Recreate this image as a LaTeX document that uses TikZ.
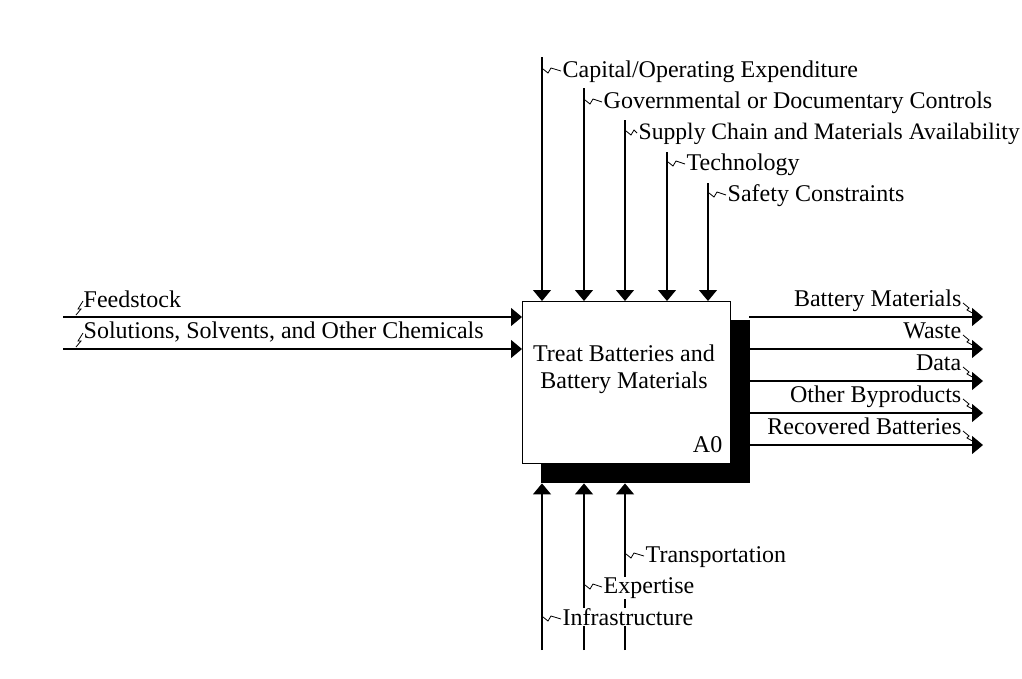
\documentclass[tikz,border=0pt]{standalone}
\usepackage{fontspec}
\setmainfont{Liberation Serif}
\usetikzlibrary{arrows.meta}
\begin{document}
\begin{tikzpicture}[x=1pt,y=-1pt,font=\fontsize{24}{27}\selectfont,
  flow/.style={line width=1.2pt,-{Triangle[length=11pt,width=18pt]}},
  lbl/.style={inner sep=0.5pt,fill=white,anchor=base west},
  rlbl/.style={inner sep=0.5pt,fill=white,anchor=base east},
  squig/.style={line width=0.8pt}]
\useasboundingbox[fill=white] (0,0) rectangle (1022,678);
% shadow and box
\node[fill=black,minimum width=209pt,minimum height=163pt,inner sep=0pt,anchor=north west] (shadow) at (541,320) {};
\node[draw,line width=1.2pt,fill=white,minimum width=208pt,minimum height=162pt,inner sep=0pt,anchor=north west] (box) at (522,301) {};
\node[align=center,inner sep=0pt] (title) at (624,369) {Treat Batteries and\\Battery Materials};
\node[rlbl] (a0) at (723,452) {A0};
% controls (top)
\coordinate (t1) at (542,57);
\coordinate (t2) at (584,88);
\coordinate (t3) at (625,120);
\coordinate (t4) at (667,152);
\coordinate (t5) at (708,183);
\foreach \c in {t1,t2,t3,t4,t5}{\draw[flow] (\c) -- (\c |- box.north);}
\node[lbl] (c1) at (562,77) {Capital/Operating Expenditure};
\node[lbl] (c2) at (603,108) {Governmental or Documentary Controls};
\node[lbl,font=\fontsize{23.6}{27}\selectfont] (c3) at (638,139) {Supply Chain and Materials Availability};
\node[lbl] (c4) at (686,170) {Technology};
\node[lbl] (c5) at (727,201) {Safety Constraints};
\foreach \x/\y/\e in {542/77/562,584/108/603,625/139/638,667/170/686,708/201/727}{
  \draw[squig] (\x+1,\y-8) -- ++(5,4) -- ++(3,-5) -- (\e-1,\y-6);}
% inputs (left)
\coordinate (l1) at (63,317);
\coordinate (l2) at (63,349);
\foreach \c in {l1,l2}{\draw[flow] (\c) -- (\c -| box.west);}
\node[lbl] (i1) at (83,307) {Feedstock};
\node[lbl] (i2) at (83,338) {Solutions, Solvents, and Other Chemicals};
\foreach \y in {317,349}{
  \draw[squig] (76,\y-2) -- ++(5,-6) -- ++(-3,0) -- (83,\y-16);}
% outputs (right)
\foreach \n/\y in {1/317,2/349,3/381,4/413,5/445}{
  \coordinate (o\n) at (983,\y);
  \draw[flow] ([xshift=18pt]box.east |- o\n) -- (o\n);
  \draw[squig] (963,\y-14) -- ++(6,5) -- ++(-2,2) -- (976,\y-2);}
\node[rlbl] (r1) at (962,306) {Battery Materials};
\node[rlbl] (r2) at (962,338) {Waste};
\node[rlbl] (r3) at (962,370) {Data};
\node[rlbl] (r4) at (962,402) {Other Byproducts};
\node[rlbl] (r5) at (962,434) {Recovered Batteries};
% mechanisms (bottom)
\coordinate (b1) at (542,650);
\coordinate (b2) at (584,650);
\coordinate (b3) at (625,650);
\foreach \c in {b1,b2,b3}{\draw[flow] (\c) -- (\c |- shadow.south);}
\node[lbl] (m3) at (645,562) {Transportation};
\node[lbl] (m2) at (603,593) {Expertise};
\node[lbl] (m1) at (562,625) {Infrastructure};
\foreach \x/\y/\e in {542/625/562,584/593/603,625/562/645}{
  \draw[squig] (\x+1,\y-8) -- ++(5,4) -- ++(3,-5) -- (\e-1,\y-6);}
\end{tikzpicture}
\end{document}
